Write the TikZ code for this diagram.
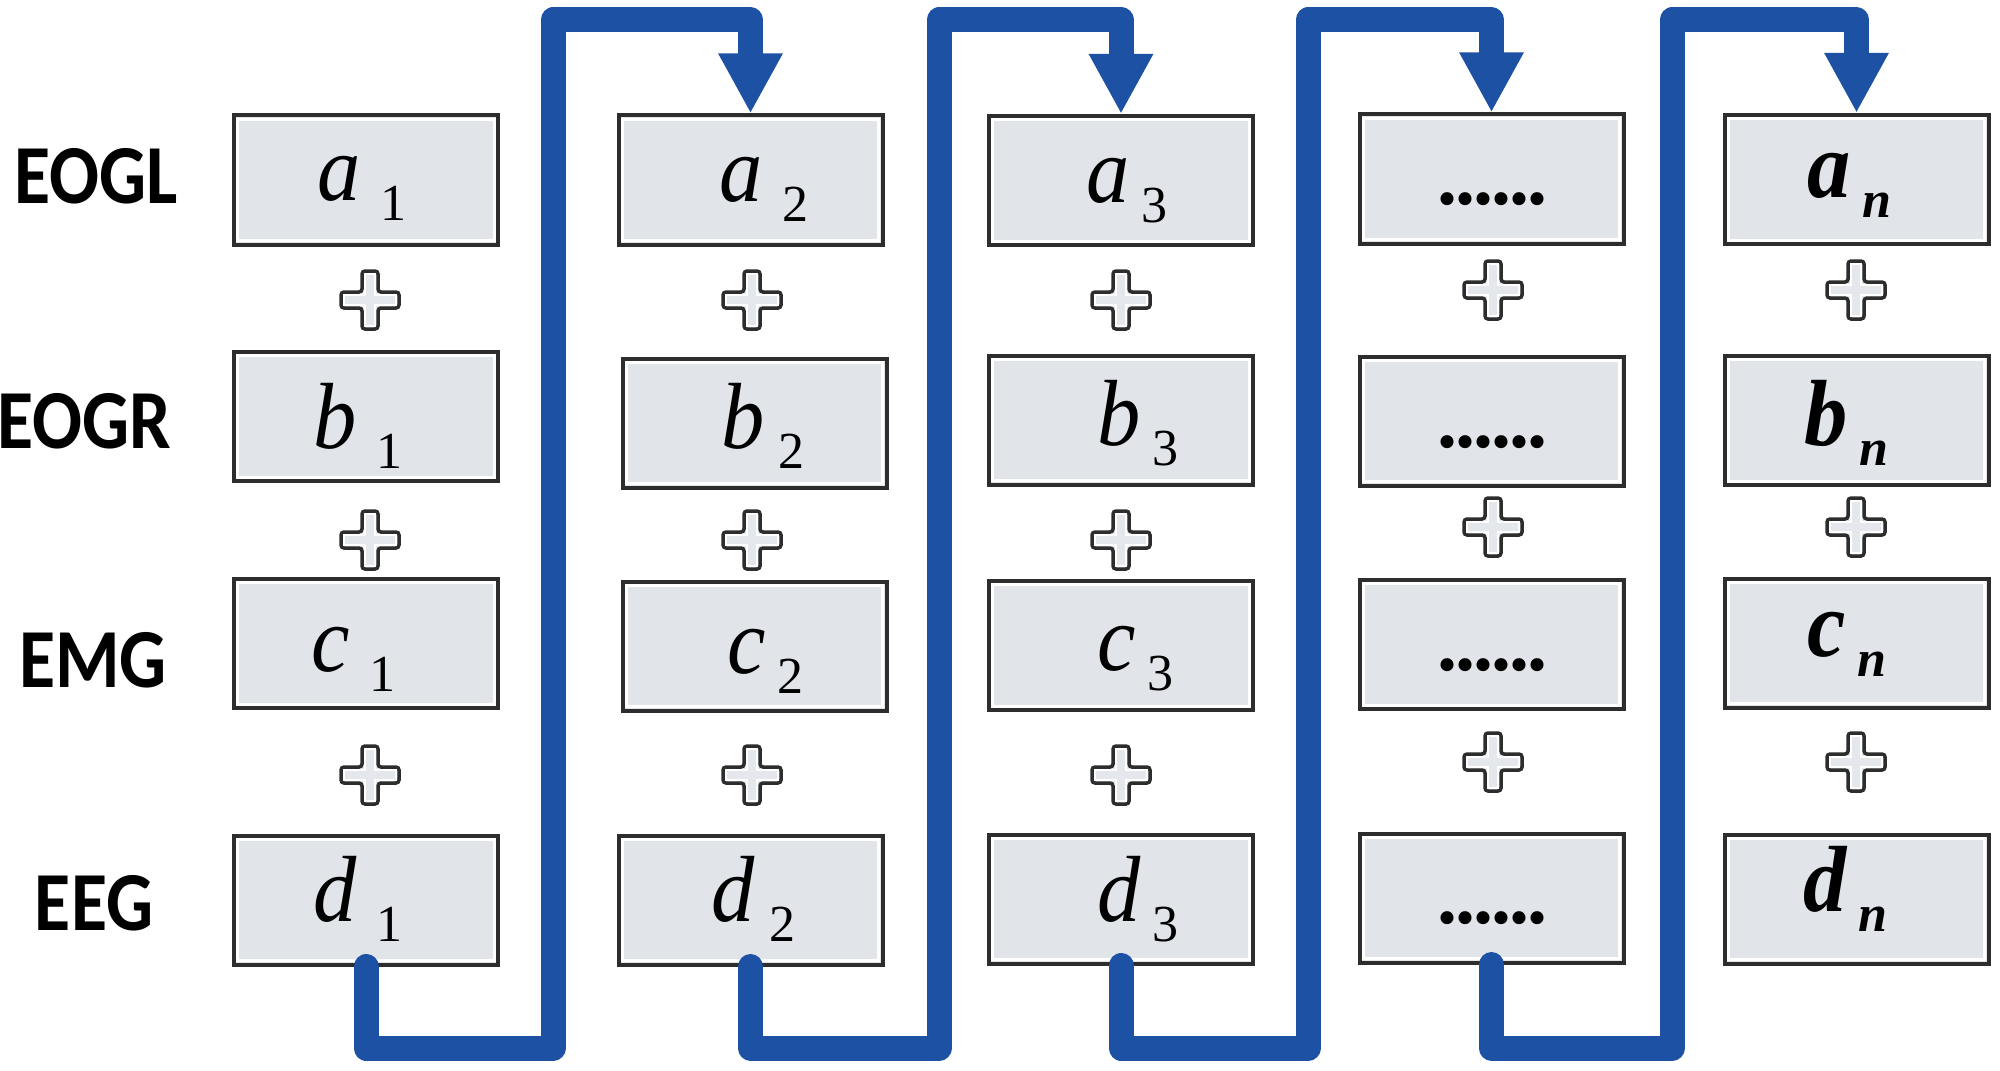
\documentclass[tikz,border=0pt]{standalone}
\usepackage{fontspec}
\usetikzlibrary{arrows.meta}
\newfontfamily\labfont[FakeStretch=0.88]{Carlito}
\newfontfamily\varfont[FakeStretch=0.92]{Liberation Serif}
\newfontfamily\dotfont{Liberation Serif}
\definecolor{flowblue}{RGB}{29,81,163}
\definecolor{boxfill}{RGB}{225,229,234}
\definecolor{boxline}{RGB}{45,45,45}
\definecolor{plusfill}{RGB}{228,231,236}
\newcommand\cellvar[2]{{\fontsize{47pt}{50pt}\selectfont\itshape #1}\hspace{6pt}\raisebox{-10pt}{\dotfont\fontsize{26pt}{28pt}\selectfont #2}}
\newcommand\celldots{{\dotfont\bfseries\fontsize{40pt}{42pt}\selectfont .\kern-1pt.\kern-1pt.\kern-1pt.\kern-1pt.\kern-1pt.}}
\tikzset{
  cell/.style={draw=boxline, line width=2pt, fill=boxfill, minimum width=132pt, minimum height=64.5pt, inner sep=0pt,
    path picture={\draw[white,line width=1.5pt] ([shift={(1.8pt,1.8pt)}]path picture bounding box.south west) rectangle ([shift={(-1.8pt,-1.8pt)}]path picture bounding box.north east);}},
  celltext/.style={anchor=base west, inner sep=0pt, font=\varfont},
  dottext/.style={anchor=base west, inner sep=0pt},
  rowlabel/.style={anchor=base, inner sep=0pt, font=\labfont\bfseries\fontsize{42pt}{44pt}\selectfont},
  flow/.style={draw=flowblue, line width=12.5pt, line join=round, line cap=round, -{Triangle[width=30pt,length=30pt]}},
  plusmark/.style={draw=boxline, fill=plusfill, line width=1.75pt, rounded corners=1.5pt},
  plusinner/.style={draw=white, line width=1pt},
  plussign/.pic={
    \path[plusmark] (-8,-29) -- (8,-29) -- (8,-8) -- (29,-8) -- (29,8) -- (8,8) -- (8,29) -- (-8,29) -- (-8,8) -- (-29,8) -- (-29,-8) -- (-8,-8) -- cycle;
    \path[plusinner] (-5.2,-26.2) -- (5.2,-26.2) -- (5.2,-5.2) -- (26.2,-5.2) -- (26.2,5.2) -- (5.2,5.2) -- (5.2,26.2) -- (-5.2,26.2) -- (-5.2,5.2) -- (-26.2,5.2) -- (-26.2,-5.2) -- (-5.2,-5.2) -- cycle;
  }
}
\begin{document}
\begin{tikzpicture}[x=0.5pt,y=-0.5pt]
\path[use as bounding box, fill=white] (0,0) rectangle (2000,1070);

% row labels
\node[rowlabel] (lEOGL) at (96,203) {EOGL};
\node[rowlabel] (lEOGR) at (84,448) {EOGR};
\node[rowlabel] (lEMG) at (93,687) {EMG};
\node[rowlabel] (lEEG) at (94,930) {EEG};

% boxes
\node[cell] (a1) at (366,180) {};
\node[cell] (b1) at (366,416.5) {};
\node[cell] (c1) at (366,643.5) {};
\node[cell] (d1) at (366,900) {};
\node[cell] (a2) at (750.5,180) {};
\node[cell] (b2) at (754.5,423) {};
\node[cell] (c2) at (754.5,646) {};
\node[cell] (d2) at (750.5,900) {};
\node[cell] (a3) at (1121,180.5) {};
\node[cell] (b3) at (1121,420) {};
\node[cell] (c3) at (1121,645.5) {};
\node[cell] (d3) at (1121,899) {};
\node[cell] (a4) at (1491.5,179) {};
\node[cell] (b4) at (1491.5,421) {};
\node[cell] (c4) at (1491.5,644.5) {};
\node[cell] (d4) at (1491.5,898) {};
\node[cell] (a5) at (1856.5,179.5) {};
\node[cell] (b5) at (1856.5,420.5) {};
\node[cell] (c5) at (1856.5,643) {};
\node[cell] (d5) at (1856.5,899) {};

% box texts
\node[celltext] (ta1) at (317,200) {\cellvar{a}{\hspace{4pt}1}};
\node[celltext] (tb1) at (313,448) {\cellvar{b}{\hspace{4pt}1}};
\node[celltext] (tc1) at (311,671) {\cellvar{c}{\hspace{4pt}1}};
\node[celltext] (td1) at (313,921) {\cellvar{d}{\hspace{4pt}1}};
\node[celltext] (ta2) at (719,201) {\cellvar{a}{\hspace{4pt}2}};
\node[celltext] (tb2) at (721,448) {\cellvar{b}{\hspace{1pt}2}};
\node[celltext] (tc2) at (727,673) {\cellvar{c}{2}};
\node[celltext] (td2) at (711,921) {\cellvar{d}{\hspace{1.5pt}2}};
\node[celltext] (ta3) at (1086,202) {\cellvar{a}{3}};
\node[celltext] (tb3) at (1097,445) {\cellvar{b}{3}};
\node[celltext] (tc3) at (1097,670) {\cellvar{c}{3}};
\node[celltext] (td3) at (1097,921) {\cellvar{d}{3}};
\node[dottext] (ta4) at (1437,204) {\celldots};
\node[dottext] (tb4) at (1437,447) {\celldots};
\node[dottext] (tc4) at (1437,670) {\celldots};
\node[dottext] (td4) at (1437,923) {\celldots};
\node[celltext] (ta5) at (1807,197) {\cellvar{\bfseries a}{\bfseries\itshape n}};
\node[celltext] (tb5) at (1804,445) {\cellvar{\bfseries b}{\bfseries\itshape n}};
\node[celltext] (tc5) at (1807,656) {\cellvar{\bfseries c}{\bfseries\itshape n}};
\node[celltext] (td5) at (1803,911) {\cellvar{\bfseries d}{\bfseries\itshape n}};

% plus signs
\foreach \px in {370,752,1121}{
  \foreach \py in {300,540,775}{ \pic at (\px,\py) {plussign}; }
}
\foreach \px in {1493,1856}{
  \foreach \py in {290,527,762}{ \pic at (\px,\py) {plussign}; }
}

% connectors
\coordinate (v1) at (553,1048); \coordinate (u1) at (553,20);
\coordinate (v2) at (939,1048); \coordinate (u2) at (939,20);
\coordinate (v3) at (1308,1048); \coordinate (u3) at (1308,20);
\coordinate (v4) at (1672,1048); \coordinate (u4) at (1672,20);
\draw[flow] (d1.south) |- (v1) -- (u1) -| (a2.north);
\draw[flow] (d2.south) |- (v2) -- (u2) -| (a3.north);
\draw[flow] (d3.south) |- (v3) -- (u3) -| (a4.north);
\draw[flow] (d4.south) |- (v4) -- (u4) -| (a5.north);
\end{tikzpicture}
\end{document}
